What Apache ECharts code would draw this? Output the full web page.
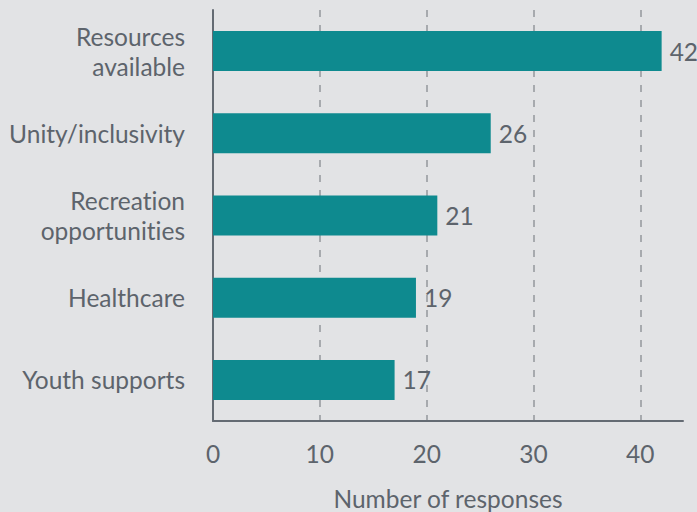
<!DOCTYPE html>
<html>
<head>
<meta charset="utf-8">
<script src="https://cdn.jsdelivr.net/npm/echarts@6/dist/echarts.min.js"></script>
<style>
  html, body { margin: 0; padding: 0; background: #e2e3e5; }
  #chart { width: 697px; height: 512px; }
  #chart text { font-variant-ligatures: none; }
</style>
</head>
<body>
<div id="chart"></div>
<script>
// Community strengths, ranked by number of responses
const categories = ['Youth supports', 'Healthcare', 'Recreation\nopportunities', 'Unity/inclusivity', 'Resources\navailable'];
const responses = [17, 19, 21, 26, 42];
const xTicks = [0, 10, 20, 30, 40];

const textColor = '#5d646c';
const font = 'Lato, "Noto Sans", sans-serif';
const fs = 24.5;

const chart = echarts.init(document.getElementById('chart'), null, { renderer: 'svg' });
chart.setOption({
  backgroundColor: '#e2e3e5',
  animation: false,
  grid: { left: 213, right: 14, top: 10, bottom: 91, containLabel: false, outerBoundsMode: 'none' },
  xAxis: {
    type: 'value',
    min: xTicks[0],
    max: 44,
    interval: 10,
    name: 'Number of responses',
    nameLocation: 'middle',
    nameGap: 65,
    nameTextStyle: { color: textColor, fontSize: fs, fontFamily: font },
    axisLine: { show: true, lineStyle: { color: '#646b73', width: 2 } },
    axisTick: { show: false },
    axisLabel: {
      color: textColor, fontSize: fs, fontFamily: font, margin: 20,
      showMaxLabel: false,
      formatter: v => (xTicks.includes(v) ? String(v) : '')
    },
    splitLine: {
      show: true,
      showMinLine: false,
      showMaxLine: false,
      lineStyle: { color: '#a7aaae', width: 2, type: [7, 8] }
    }
  },
  yAxis: {
    type: 'category',
    data: categories,
    axisLine: { show: true, lineStyle: { color: '#646b73', width: 2 } },
    axisTick: { show: false },
    axisLabel: {
      color: textColor, fontSize: fs, fontFamily: font, margin: 28,
      align: 'right', lineHeight: 30
    },
    splitLine: { show: false }
  },
  series: [{
    type: 'bar',
    data: responses,
    barWidth: 40,
    itemStyle: { color: '#0e8a8f' },
    label: {
      show: true,
      position: 'right',
      distance: 8,
      color: textColor,
      fontSize: fs,
      fontFamily: font
    }
  }]
});
</script>
</body>
</html>
